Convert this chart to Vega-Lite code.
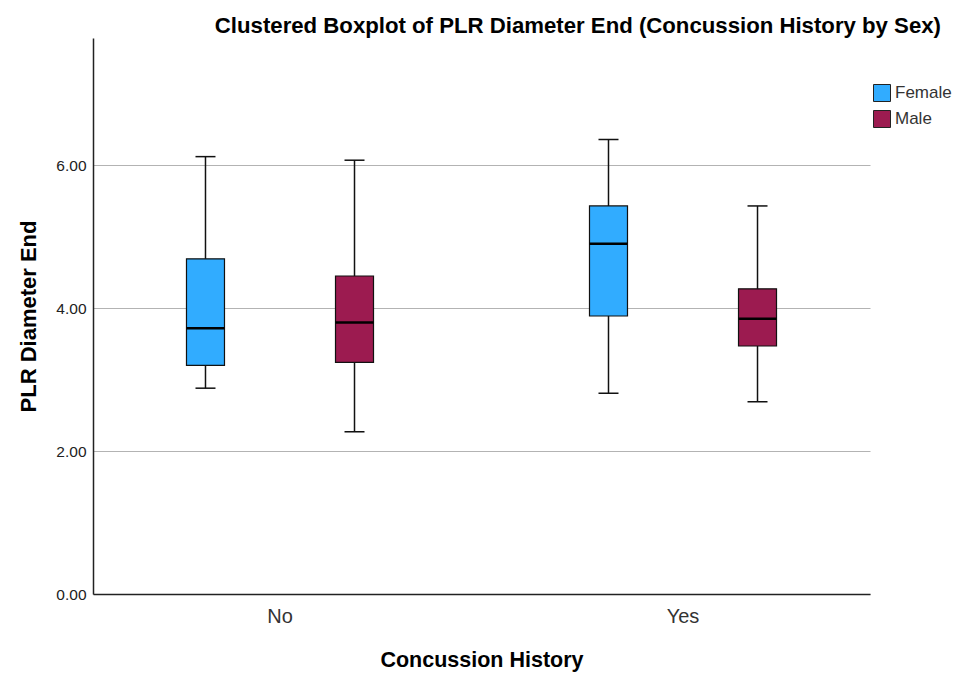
{
  "$schema": "https://vega.github.io/schema/vega-lite/v6.json",
  "autosize": "none",
  "width": 777,
  "height": 556,
  "padding": {"left": 93, "top": 38, "right": 92, "bottom": 79},
  "background": "white",
  "config": {
    "view": {"stroke": null},
    "font": "Liberation Sans"
  },
  "title": {
    "text": "Clustered Boxplot of PLR Diameter End (Concussion History by Sex)",
    "anchor": "start",
    "dx": 197,
    "fontSize": 22.2,
    "fontWeight": "bold",
    "font": "Liberation Sans",
    "color": "#000000",
    "offset": 1
  },
  "data": {
    "values": [
      {"concussion": "No", "sex": "Female", "min": 2.88, "q1": 3.20, "median": 3.72, "q3": 4.69, "max": 6.12},
      {"concussion": "No", "sex": "Male", "min": 2.27, "q1": 3.24, "median": 3.80, "q3": 4.45, "max": 6.07},
      {"concussion": "Yes", "sex": "Female", "min": 2.81, "q1": 3.89, "median": 4.90, "q3": 5.43, "max": 6.36},
      {"concussion": "Yes", "sex": "Male", "min": 2.69, "q1": 3.47, "median": 3.85, "q3": 4.27, "max": 5.43}
    ]
  },
  "encoding": {
    "x": {
      "field": "concussion",
      "type": "nominal",
      "title": "Concussion History",
      "scale": {"paddingInner": 0.1, "paddingOuter": 0.014},
      "axis": {
        "labelAngle": 0,
        "labelFontSize": 20,
        "labelColor": "#333333",
        "labelPadding": 12,
        "ticks": false,
        "domainColor": "#222222",
        "domainWidth": 1.5,
        "titleFontSize": 21.5,
        "titleFontWeight": "bold",
        "titleColor": "#000000",
        "titlePadding": 23
      }
    },
    "xOffset": {
      "field": "sex",
      "type": "nominal",
      "scale": {"paddingInner": 0, "paddingOuter": 0.217}
    }
  },
  "layer": [
    {
      "mark": {"type": "rule", "color": "#111111", "strokeWidth": 1.5},
      "encoding": {
        "y": {
          "field": "min",
          "type": "quantitative",
          "title": "PLR Diameter End",
          "scale": {"domain": [0, 7.78], "nice": false},
          "axis": {
            "values": [0, 2, 4, 6],
            "format": ".2f",
            "ticks": false,
            "labelFontSize": 15.5,
            "labelColor": "#222222",
            "labelPadding": 7,
            "grid": true,
            "gridColor": "#b3b3b3",
            "gridWidth": 1,
            "domainColor": "#222222",
            "domainWidth": 1.5,
            "titleFontSize": 22,
            "titleFontWeight": "bold",
            "titleColor": "#000000",
            "titlePadding": 15
          }
        },
        "y2": {"field": "max"}
      }
    },
    {
      "mark": {"type": "bar", "width": 38, "stroke": "#111111", "strokeWidth": 1.2},
      "encoding": {
        "y": {"field": "q1", "type": "quantitative"},
        "y2": {"field": "q3"},
        "color": {
          "field": "sex",
          "type": "nominal",
          "scale": {"domain": ["Female", "Male"], "range": ["#31acff", "#9c1b50"]},
          "legend": {
            "title": null,
            "orient": "none",
            "legendX": 780,
            "legendY": 46,
            "symbolType": "square",
            "symbolSize": 289,
            "symbolStrokeColor": "#222222",
            "symbolStrokeWidth": 1,
            "symbolOpacity": 1,
            "labelFontSize": 17,
            "labelColor": "#333333",
            "labelOffset": 4,
            "rowPadding": 4
          }
        }
      }
    },
    {
      "mark": {"type": "tick", "color": "#000000", "size": 38, "thickness": 2.5, "opacity": 1},
      "encoding": {"y": {"field": "median", "type": "quantitative"}}
    },
    {
      "mark": {"type": "tick", "color": "#111111", "size": 20, "thickness": 1.5, "opacity": 1},
      "encoding": {"y": {"field": "min", "type": "quantitative"}}
    },
    {
      "mark": {"type": "tick", "color": "#111111", "size": 20, "thickness": 1.5, "opacity": 1},
      "encoding": {"y": {"field": "max", "type": "quantitative"}}
    }
  ]
}
